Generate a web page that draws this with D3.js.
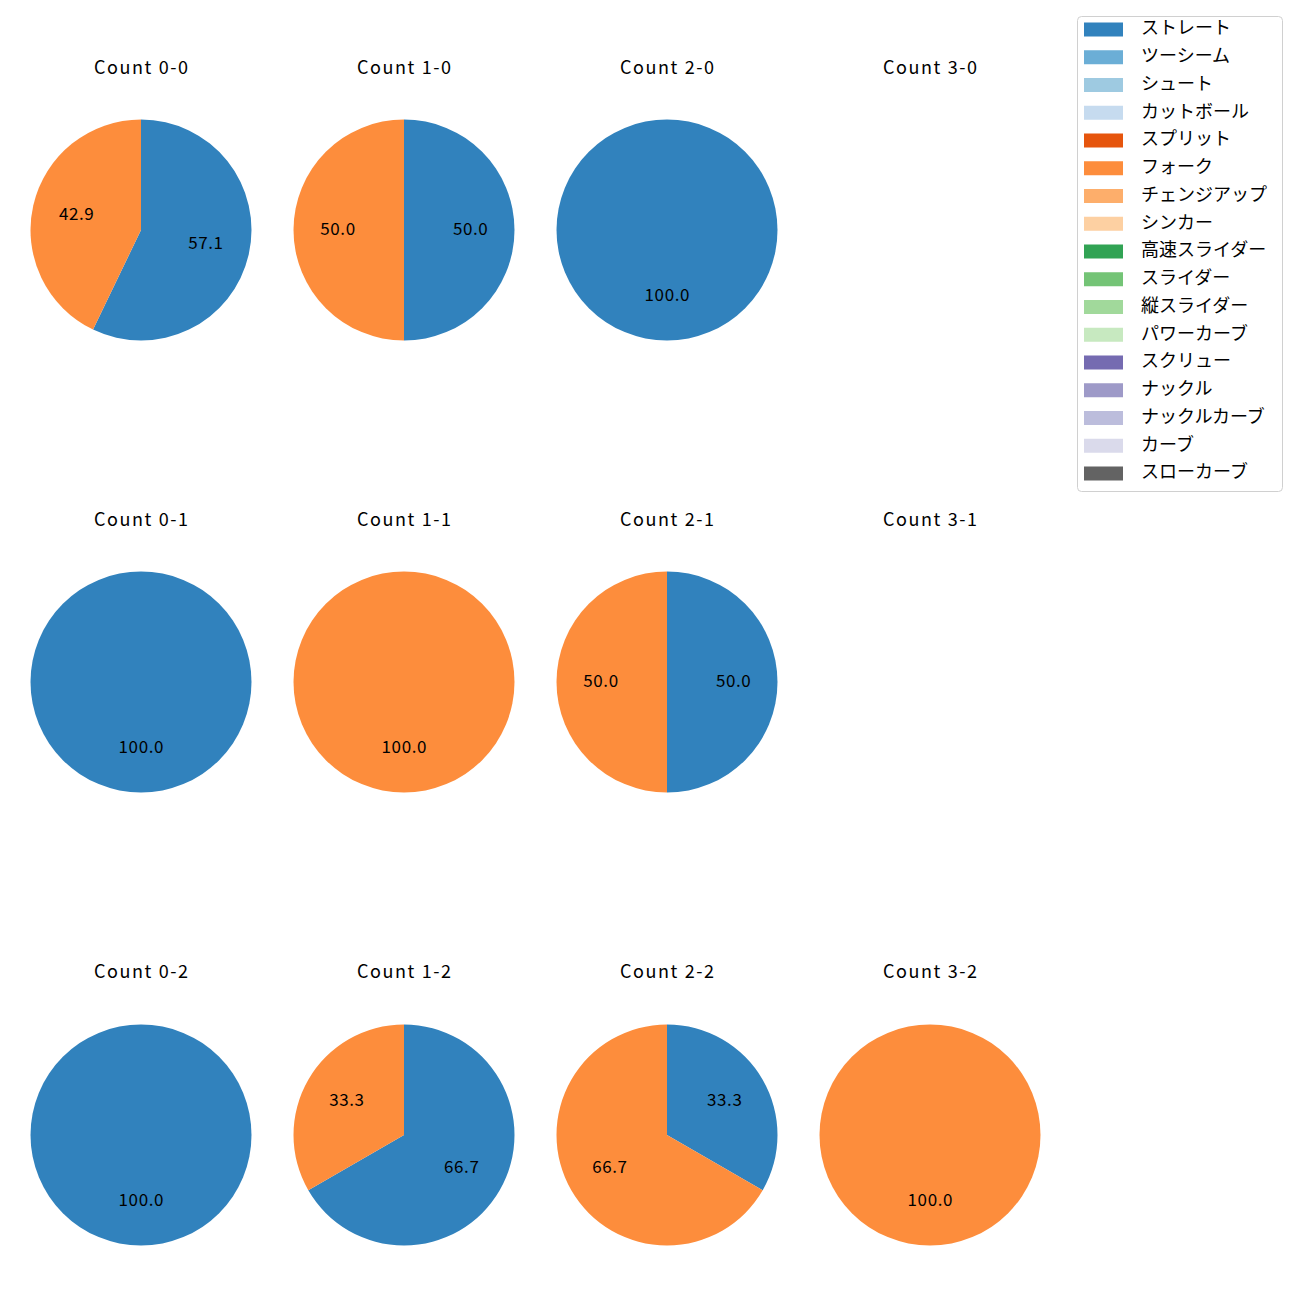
<!DOCTYPE html>
<html><head><meta charset="utf-8">
<script src="https://cdn.jsdelivr.net/npm/d3@7"></script>
<style>body{margin:0;background:#fff}svg{display:block;font-family:"Noto Sans CJK JP","Noto Sans",sans-serif}</style>
</head><body><div id="c"></div>
<script>
const pitchTypes = ["ストレート","ツーシーム","シュート","カットボール","スプリット","フォーク","チェンジアップ","シンカー","高速スライダー","スライダー","縦スライダー","パワーカーブ","スクリュー","ナックル","ナックルカーブ","カーブ","スローカーブ"];
const pitchColors = ["#3182bd","#6baed6","#9ecae1","#c6dbef","#e6550d","#fd8d3c","#fdae6b","#fdd0a2","#31a354","#74c476","#a1d99b","#c7e9c0","#756bb1","#9e9ac8","#bcbddc","#dadaeb","#636363"];
const counts = ["0-0","1-0","2-0","3-0","0-1","1-1","2-1","3-1","0-2","1-2","2-2","3-2"];
// pitches per count: [ストレート, フォーク]
const straightVals = [4,1,1,0,1,0,1,0,1,2,1,0];
const forkVals     = [3,1,0,0,0,1,1,0,0,1,2,1];

const W=1300,H=1300;
const svg=d3.select("#c").append("svg").attr("width",W).attr("height",H);
const colX=[141,404,667,930], rowY=[230,682,1135], titleY=[69,521,973];
const R=110.5;
const color=d3.scaleOrdinal().domain(pitchTypes).range(pitchColors);
const pie=d3.pie().sort(null).value(d=>d.v);
const arc=d3.arc().innerRadius(0).outerRadius(R);

counts.forEach((c,i)=>{
  const col=i%4,row=Math.floor(i/4);
  const g=svg.append("g");
  g.append("text").attr("x",colX[col]+0.8).attr("y",titleY[row]).attr("text-anchor","middle")
    .attr("dominant-baseline","middle").attr("font-size",18).attr("letter-spacing","1.6px")
    .attr("fill","#000").text("Count "+c);
  const data=[{k:"ストレート",v:straightVals[i]},{k:"フォーク",v:forkVals[i]}].filter(d=>d.v>0);
  const total=d3.sum(data,d=>d.v);
  if(total===0) return;
  const pg=g.append("g").attr("transform",`translate(${colX[col]},${rowY[row]})`);
  const arcs=pie(data);
  pg.selectAll("path").data(arcs).join("path").attr("d",arc).attr("fill",d=>color(d.data.k));
  pg.selectAll("text").data(arcs).join("text")
    .attr("transform",d=>{
      const a=(d.startAngle+d.endAngle)/2;
      return `translate(${Math.sin(a)*R*0.6+0.3},${-Math.cos(a)*R*0.6})`;})
    .attr("text-anchor","middle").attr("dominant-baseline","middle")
    .attr("font-size",17).attr("letter-spacing","0.6px").attr("fill","#000")
    .text(d=>(d.data.v/total*100).toFixed(1));
});

// legend
const lg=svg.append("g");
lg.append("rect").attr("x",1077.5).attr("y",16.5).attr("width",205).attr("height",475)
  .attr("rx",4).attr("fill","#fff").attr("stroke","#d0d0d0");
pitchTypes.forEach((p,i)=>{
  const y=29.5+i*27.75;
  lg.append("rect").attr("x",1084).attr("y",y-7).attr("width",39).attr("height",14).attr("fill",color(p));
  lg.append("text").attr("x",1141).attr("y",y).attr("dominant-baseline","middle")
    .attr("font-size",18).attr("fill","#000").text(p);
});
</script></body></html>
